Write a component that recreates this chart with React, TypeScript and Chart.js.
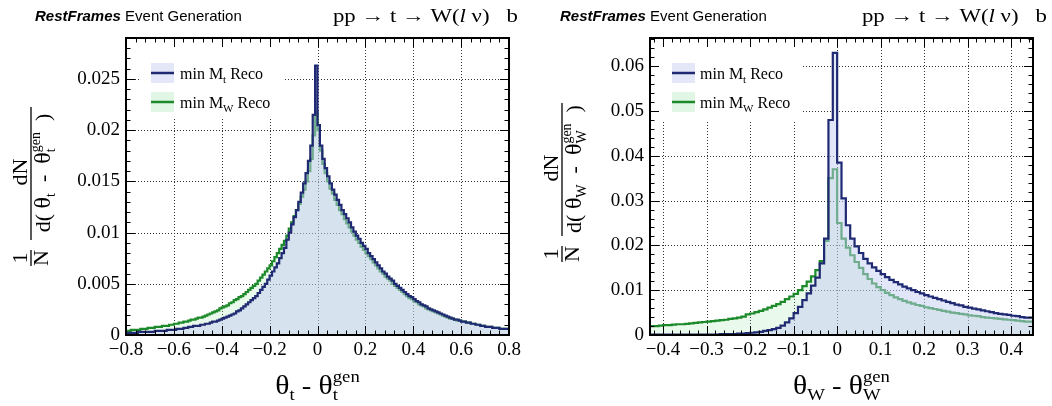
import React, { useEffect, useRef } from "react";
import { Chart, registerables } from "chart.js";
Chart.register(...registerables);

const SERIF = '"Liberation Serif", "DejaVu Serif", "Times New Roman", serif';
const SANS = '"Liberation Sans", Arial, Helvetica, sans-serif';

// ---------------- data ----------------
// Left panel: theta_t - theta_t^gen, bins of 0.01 from -0.8
const leftBinStart = -0.8;
const leftBinWidth = 0.01;
const leftMinMt = [
  0.0002, 0.0002, 0.0002, 0.0002, 0.0002, 0.0002, 0.0003, 0.0003, 0.0003, 0.0003,
  0.0003, 0.0003, 0.0003, 0.0004, 0.0004, 0.0004, 0.0004, 0.0004, 0.0005, 0.0005,
  0.0005, 0.0005, 0.0006, 0.0006, 0.0006, 0.0007, 0.0007, 0.0008, 0.0008, 0.0009,
  0.0009, 0.0009, 0.001, 0.001, 0.0011, 0.0011, 0.0012, 0.0013, 0.0013, 0.0014,
  0.0015, 0.0016, 0.0017, 0.0018, 0.0019, 0.002, 0.0021, 0.0023, 0.0024, 0.0026,
  0.0028, 0.003, 0.0032, 0.0034, 0.0036, 0.0038, 0.0041, 0.0044, 0.0047, 0.005,
  0.0054, 0.0058, 0.0062, 0.0066, 0.007, 0.0075, 0.008, 0.0085, 0.0093, 0.01,
  0.0108, 0.0115, 0.0122, 0.013, 0.0139, 0.0148, 0.0158, 0.017, 0.0185, 0.0215,
  0.0263, 0.0205, 0.0185, 0.0172, 0.0163, 0.0155, 0.0148, 0.0142, 0.0137, 0.0132,
  0.0127, 0.0122, 0.0118, 0.0114, 0.011, 0.0105, 0.0101, 0.0097, 0.0094, 0.009,
  0.0087, 0.0084, 0.008, 0.0077, 0.0074, 0.0071, 0.0068, 0.0065, 0.0062, 0.006,
  0.0057, 0.0055, 0.0053, 0.005, 0.0048, 0.0046, 0.0044, 0.0042, 0.004, 0.0038,
  0.0037, 0.0035, 0.0033, 0.0032, 0.003, 0.0029, 0.0028, 0.0026, 0.0025, 0.0024,
  0.0023, 0.0022, 0.0021, 0.002, 0.0019, 0.0018, 0.0017, 0.0016, 0.0015, 0.0015,
  0.0014, 0.0013, 0.0013, 0.0012, 0.0012, 0.0011, 0.0011, 0.001, 0.001, 0.0009,
  0.0009, 0.0008, 0.0008, 0.0008, 0.0007, 0.0007, 0.0007, 0.0006, 0.0006, 0.0006,
];
const leftMinMw = [
  0.0004, 0.0004, 0.0004, 0.0005, 0.0005, 0.0005, 0.0005, 0.0006, 0.0006, 0.0006,
  0.0007, 0.0007, 0.0007, 0.0008, 0.0008, 0.0008, 0.0009, 0.0009, 0.0009, 0.001,
  0.001, 0.0011, 0.0011, 0.0012, 0.0012, 0.0013, 0.0013, 0.0014, 0.0015, 0.0015,
  0.0016, 0.0017, 0.0017, 0.0018, 0.0019, 0.002, 0.0021, 0.0022, 0.0023, 0.0024,
  0.0026, 0.0027, 0.0028, 0.0029, 0.0031, 0.0032, 0.0034, 0.0035, 0.0037, 0.0038,
  0.004, 0.0042, 0.0044, 0.0046, 0.0048, 0.005, 0.0053, 0.0056, 0.0059, 0.0062,
  0.0065, 0.0068, 0.0072, 0.0076, 0.008, 0.0084, 0.0088, 0.0092, 0.0097, 0.0104,
  0.011, 0.0116, 0.0122, 0.0128, 0.0135, 0.0142, 0.015, 0.016, 0.0172, 0.0195,
  0.0218, 0.02, 0.018, 0.0167, 0.0158, 0.015, 0.0143, 0.0138, 0.0132, 0.0127,
  0.0122, 0.0118, 0.0113, 0.0109, 0.0105, 0.0101, 0.0097, 0.0093, 0.009, 0.0086,
  0.0083, 0.008, 0.0077, 0.0074, 0.0071, 0.0068, 0.0065, 0.0062, 0.006, 0.0057,
  0.0055, 0.0053, 0.005, 0.0048, 0.0046, 0.0044, 0.0042, 0.004, 0.0038, 0.0036,
  0.0035, 0.0033, 0.0032, 0.003, 0.0029, 0.0028, 0.0026, 0.0025, 0.0024, 0.0023,
  0.0022, 0.0021, 0.002, 0.0019, 0.0018, 0.0017, 0.0016, 0.0016, 0.0015, 0.0014,
  0.0014, 0.0013, 0.0013, 0.0012, 0.0012, 0.0011, 0.0011, 0.001, 0.001, 0.0009,
  0.0009, 0.0008, 0.0008, 0.0008, 0.0007, 0.0007, 0.0007, 0.0006, 0.0006, 0.0006,
];

// Right panel: theta_W - theta_W^gen, bins of 0.01 from -0.43
const rightBinStart = -0.43;
const rightBinWidth = 0.01;
const rightMinMt = [
  0.0001, 0.0001, 0.0001, 0.0001, 0.0001, 0.0001, 0.0001, 0.0001, 0.0001, 0.0001,
  0.0001, 0.0001, 0.0001, 0.0001, 0.0001, 0.0001, 0.0001, 0.0002, 0.0002, 0.0002,
  0.0002, 0.0003, 0.0003, 0.0004, 0.0005, 0.0006, 0.0007, 0.0009, 0.0011, 0.0013,
  0.0016, 0.0021, 0.0028, 0.0037, 0.0049, 0.0063, 0.0078, 0.0093, 0.011, 0.0128,
  0.016, 0.0215, 0.048, 0.063, 0.0385, 0.0305, 0.0245, 0.0215, 0.0198, 0.0183,
  0.017, 0.016, 0.0151, 0.0143, 0.0136, 0.0129, 0.0123, 0.0118, 0.0113, 0.0108,
  0.0104, 0.01, 0.0096, 0.0093, 0.0089, 0.0086, 0.0083, 0.008, 0.0077, 0.0074,
  0.0071, 0.0068, 0.0066, 0.0063, 0.0061, 0.0059, 0.0057, 0.0055, 0.0053, 0.0051,
  0.0049, 0.0047, 0.0046, 0.0045, 0.0043, 0.0042, 0.004, 0.0039,
];
const rightMinMw = [
  0.0019, 0.002, 0.002, 0.0021, 0.0022, 0.0022, 0.0023, 0.0024, 0.0024, 0.0025,
  0.0026, 0.0027, 0.0028, 0.0029, 0.003, 0.0031, 0.0032, 0.0033, 0.0034, 0.0036,
  0.0037, 0.0039, 0.0041, 0.0046, 0.0048, 0.0051, 0.0054, 0.0057, 0.0061, 0.0065,
  0.0069, 0.0074, 0.008, 0.0086, 0.0092, 0.01, 0.0109, 0.0119, 0.0131, 0.0145,
  0.0165, 0.021, 0.035, 0.037, 0.025, 0.0215, 0.0195, 0.0178, 0.0163, 0.015,
  0.0136, 0.0125, 0.0115, 0.0107, 0.01, 0.0094, 0.0089, 0.0084, 0.008, 0.0076,
  0.0073, 0.007, 0.0067, 0.0065, 0.0062, 0.006, 0.0058, 0.0056, 0.0054, 0.0052,
  0.005, 0.0049, 0.0047, 0.0046, 0.0044, 0.0043, 0.0042, 0.004, 0.0039, 0.0038,
  0.0037, 0.0036, 0.0035, 0.0034, 0.0033, 0.0032, 0.0031, 0.003,
];

const leftXTicks = [-0.8, -0.6, -0.4, -0.2, 0, 0.2, 0.4, 0.6, 0.8];
const leftXTickLabels = ["\u22120.8", "\u22120.6", "\u22120.4", "\u22120.2", "0", "0.2", "0.4", "0.6", "0.8"];
const leftYTicks = [0, 0.005, 0.01, 0.015, 0.02, 0.025];
const leftYTickLabels = ["0", "0.005", "0.01", "0.015", "0.02", "0.025"];
const rightXTicks = [-0.4, -0.3, -0.2, -0.1, 0, 0.1, 0.2, 0.3, 0.4];
const rightXTickLabels = ["\u22120.4", "\u22120.3", "\u22120.2", "\u22120.1", "0", "0.1", "0.2", "0.3", "0.4"];
const rightYTicks = [0, 0.01, 0.02, 0.03, 0.04, 0.05, 0.06];
const rightYTickLabels = ["0", "0.01", "0.02", "0.03", "0.04", "0.05", "0.06"];

const seriesNames = ["min M", "min M"];
const seriesSubs = ["t", "W"];
const headerLeft = ["RestFrames", " Event Generation"];
const headerRight = ["pp \u2192 t \u2192 W(", "l", " \u03bd)   b"];

// ---------------- styles ----------------
const MT_LINE = "#1f2a72";
const MW_LINE = "#1c8a2a";
const MT_FILL = "rgba(196,205,242,0.5)";
const MW_FILL = "rgba(100,210,120,0.14)";
const MT_LEG_FILL = "rgb(228,231,247)";
const MW_LEG_FILL = "rgb(226,246,230)";

type Run = {
  t?: string;
  sup?: string;
  sub?: string;
  size: number;
  dy?: number;
  supDy?: number;
  subDy?: number;
  italic?: boolean;
  bold?: boolean;
  family?: string;
};

function runFont(r: Run) {
  return `${r.italic ? "italic " : ""}${r.bold ? "bold " : ""}${r.size}px ${r.family || SERIF}`;
}
function runWidth(ctx: CanvasRenderingContext2D, r: Run) {
  ctx.font = runFont(r);
  if (r.t !== undefined) return ctx.measureText(r.t).width;
  return Math.max(ctx.measureText(r.sup || "").width, ctx.measureText(r.sub || "").width);
}
function drawRuns(
  ctx: CanvasRenderingContext2D,
  runs: Run[],
  x: number,
  y: number,
  align: "left" | "center" | "right",
  sx = 1
) {
  const widths = runs.map((r) => runWidth(ctx, r));
  const total = widths.reduce((a, b) => a + b, 0) * sx;
  const x0 = align === "left" ? x : align === "center" ? x - total / 2 : x - total;
  ctx.save();
  ctx.translate(x0, y);
  ctx.scale(sx, 1);
  ctx.textAlign = "left";
  ctx.textBaseline = "alphabetic";
  let cx = 0;
  runs.forEach((r, i) => {
    ctx.font = runFont(r);
    if (r.t !== undefined) ctx.fillText(r.t, cx, r.dy || 0);
    else {
      if (r.sup) ctx.fillText(r.sup, cx, r.supDy || 0);
      if (r.sub) ctx.fillText(r.sub, cx, r.subDy || 0);
    }
    cx += widths[i];
  });
  ctx.restore();
}

function toPoints(start: number, width: number, vals: number[]) {
  const pts = vals.map((v, i) => ({ x: start + i * width, y: v }));
  pts.push({ x: start + vals.length * width, y: vals[vals.length - 1] });
  return pts;
}

type PanelCfg = {
  xMin: number;
  xMax: number;
  yMax: number;
  xTicks: number[];
  xTickLabels: string[];
  yTicks: number[];
  yTickLabels: string[];
  xMinor: number;
  yMinor: number;
  binStart: number;
  binWidth: number;
  mt: number[];
  mw: number[];
  sub: string;
  padLeft: number;
  padRight: number;
  yTitleX: number;
  yTitleY: number;
  legendBox: [number, number, number, number];
  legendSymX: number;
  legendTextX: number;
  headerLeftX: number;
  headerRightX: number;
};

const leftCfg: PanelCfg = {
  xMin: -0.8, xMax: 0.8, yMax: 0.029,
  xTicks: leftXTicks, xTickLabels: leftXTickLabels,
  yTicks: leftYTicks, yTickLabels: leftYTickLabels,
  xMinor: 0.04, yMinor: 0.001,
  binStart: leftBinStart, binWidth: leftBinWidth,
  mt: leftMinMt, mw: leftMinMw, sub: "t",
  padLeft: 126, padRight: 17,
  yTitleX: 31, yTitleY: 190,
  legendBox: [140, 40, 143, 78],
  legendSymX: 151, legendTextX: 180,
  headerLeftX: 35, headerRightX: 518,
};
const rightCfg: PanelCfg = {
  xMin: -0.43, xMax: 0.45, yMax: 0.0663,
  xTicks: rightXTicks, xTickLabels: rightXTickLabels,
  yTicks: rightYTicks, yTickLabels: rightYTickLabels,
  xMinor: 0.02, yMinor: 0.002,
  binStart: rightBinStart, binWidth: rightBinWidth,
  mt: rightMinMt, mw: rightMinMw, sub: "W",
  padLeft: 124, padRight: 19,
  yTitleX: 36, yTitleY: 186,
  legendBox: [129, 40, 146, 80],
  legendSymX: 146, legendTextX: 174,
  headerLeftX: 34, headerRightX: 521,
};

function drawYTitle(ctx: CanvasRenderingContext2D, cfg: PanelCfg) {
  ctx.save();
  ctx.translate(cfg.yTitleX, cfg.yTitleY);
  ctx.rotate(-Math.PI / 2);
  ctx.fillStyle = "#000";
  ctx.strokeStyle = "#000";
  ctx.lineWidth = 1.3;
  const F = 22;
  // 1/N
  ctx.font = `${F}px ${SERIF}`;
  ctx.textAlign = "center";
  ctx.textBaseline = "alphabetic";
  ctx.fillText("1", -68, -4);
  ctx.fillText("N", -68, 17);
  ctx.beginPath();
  ctx.moveTo(-76, 0);
  ctx.lineTo(-60, 0);
  ctx.stroke();
  // dN / d(...)
  ctx.fillText("dN", 18, -4);
  ctx.beginPath();
  ctx.moveTo(-50, 0);
  ctx.lineTo(83, 0);
  ctx.stroke();
  const S = 14;
  drawRuns(
    ctx,
    [
      { t: "d( ", size: F },
      { t: "\u03b8", size: F + 2 },
      { t: cfg.sub, size: S, dy: 5 },
      { t: "  -  ", size: F },
      { t: "\u03b8", size: F + 2 },
      { sup: "gen", sub: cfg.sub, size: S, supDy: -10, subDy: 5 },
      { t: "  )", size: F },
    ],
    17,
    19,
    "center"
  );
  ctx.restore();
}

function makePlugin(cfg: PanelCfg) {
  return {
    id: "rootStyle",
    beforeDatasetsDraw(chart: any) {
      const { ctx, chartArea: a, scales } = chart;
      const xs = scales.x;
      const ys = scales.y;
      ctx.save();
      ctx.strokeStyle = "#333";
      ctx.lineWidth = 1;
      ctx.setLineDash([1, 2]);
      cfg.xTicks.forEach((v) => {
        const px = Math.round(xs.getPixelForValue(v)) + 0.5;
        ctx.beginPath();
        ctx.moveTo(px, a.top);
        ctx.lineTo(px, a.bottom);
        ctx.stroke();
      });
      cfg.yTicks.forEach((v) => {
        const py = Math.round(ys.getPixelForValue(v)) + 0.5;
        ctx.beginPath();
        ctx.moveTo(a.left, py);
        ctx.lineTo(a.right, py);
        ctx.stroke();
      });
      ctx.setLineDash([]);
      // legend background
      const [bx, by, bw, bh] = cfg.legendBox;
      ctx.fillStyle = "#fff";
      ctx.fillRect(bx, by, bw, bh);
      ctx.restore();
    },
    afterDatasetsDraw(chart: any) {
      const { ctx, chartArea: a, scales } = chart;
      const xs = scales.x;
      const ys = scales.y;
      ctx.save();
      // frame
      ctx.strokeStyle = "#000";
      ctx.lineWidth = 2;
      ctx.strokeRect(a.left, a.top, a.right - a.left, a.bottom - a.top);
      // ticks
      ctx.lineWidth = 1;
      const MAJ = 9;
      const MIN = 4.5;
      const isMajor = (v: number, arr: number[], step: number) => arr.some((t) => Math.abs(t - v) < step * 0.01);
      const k0 = Math.ceil(cfg.xMin / cfg.xMinor - 1e-6);
      const k1 = Math.floor(cfg.xMax / cfg.xMinor + 1e-6);
      for (let k = k0; k <= k1; k++) {
        const v = k * cfg.xMinor;
        const L = isMajor(v, cfg.xTicks, cfg.xMinor) ? MAJ : MIN;
        const px = Math.round(xs.getPixelForValue(v)) + 0.5;
        ctx.beginPath();
        ctx.moveTo(px, a.bottom);
        ctx.lineTo(px, a.bottom - L);
        ctx.moveTo(px, a.top);
        ctx.lineTo(px, a.top + L);
        ctx.stroke();
      }
      const j1 = Math.floor(cfg.yMax / cfg.yMinor + 1e-6);
      for (let j = 0; j <= j1; j++) {
        const v = j * cfg.yMinor;
        const L = isMajor(v, cfg.yTicks, cfg.yMinor) ? MAJ : MIN;
        const py = Math.round(ys.getPixelForValue(v)) + 0.5;
        ctx.beginPath();
        ctx.moveTo(a.left, py);
        ctx.lineTo(a.left + L, py);
        ctx.moveTo(a.right, py);
        ctx.lineTo(a.right - L, py);
        ctx.stroke();
      }
      // tick labels
      ctx.fillStyle = "#000";
      ctx.font = `19px ${SERIF}`;
      ctx.textAlign = "center";
      ctx.textBaseline = "alphabetic";
      cfg.xTicks.forEach((v, i) => {
        ctx.fillText(cfg.xTickLabels[i], xs.getPixelForValue(v), a.bottom + 20);
      });
      ctx.textAlign = "right";
      ctx.textBaseline = "middle";
      cfg.yTicks.forEach((v, i) => {
        ctx.fillText(cfg.yTickLabels[i], a.left - 6, ys.getPixelForValue(v));
      });
      // x title
      const cx = (a.left + a.right) / 2;
      drawRuns(
        ctx,
        [
          { t: "\u03b8", size: 27 },
          { t: cfg.sub, size: 17, dy: 6 },
          { t: " - ", size: 26 },
          { t: "\u03b8", size: 27 },
          { sup: "gen", sub: cfg.sub, size: 17, supDy: -12, subDy: 6 },
        ],
        cx,
        394,
        "center",
        1.1
      );
      // y title
      drawYTitle(ctx, cfg);
      // header
      drawRuns(
        ctx,
        [
          { t: headerLeft[0], size: 15, bold: true, italic: true, family: SANS },
          { t: headerLeft[1], size: 15, family: SANS },
        ],
        cfg.headerLeftX,
        21,
        "left"
      );
      drawRuns(
        ctx,
        [
          { t: headerRight[0], size: 19 },
          { t: headerRight[1], size: 19, italic: true },
          { t: headerRight[2], size: 19 },
        ],
        cfg.headerRightX,
        22,
        "right",
        1.2
      );
      // legend
      const rows = [
        { y: 73, fill: MT_LEG_FILL, line: MT_LINE, name: seriesNames[0], sub: seriesSubs[0] },
        { y: 102, fill: MW_LEG_FILL, line: MW_LINE, name: seriesNames[1], sub: seriesSubs[1] },
      ];
      rows.forEach((r) => {
        ctx.fillStyle = r.fill;
        ctx.fillRect(cfg.legendSymX, r.y - 10, 23, 20);
        ctx.strokeStyle = r.line;
        ctx.lineWidth = 2.5;
        ctx.beginPath();
        ctx.moveTo(cfg.legendSymX, r.y);
        ctx.lineTo(cfg.legendSymX + 23, r.y);
        ctx.stroke();
        ctx.fillStyle = "#000";
        drawRuns(
          ctx,
          [
            { t: r.name, size: 16 },
            { t: r.sub, size: 11, dy: 4 },
            { t: " Reco", size: 16 },
          ],
          cfg.legendTextX,
          r.y + 6,
          "left"
        );
      });
      ctx.restore();
    },
  };
}

function Panel({ cfg }: { cfg: PanelCfg }) {
  const ref = useRef<HTMLCanvasElement | null>(null);
  useEffect(() => {
    if (!ref.current) return;
    const chart = new Chart(ref.current, {
      type: "line",
      data: {
        datasets: [
          {
            label: "min Mt Reco",
            data: toPoints(cfg.binStart, cfg.binWidth, cfg.mt),
            stepped: "after",
            borderColor: MT_LINE,
            borderWidth: 2.2,
            backgroundColor: MT_FILL,
            fill: "origin",
            pointRadius: 0,
            order: 0,
          },
          {
            label: "min MW Reco",
            data: toPoints(cfg.binStart, cfg.binWidth, cfg.mw),
            stepped: "after",
            borderColor: MW_LINE,
            borderWidth: 2.2,
            backgroundColor: MW_FILL,
            fill: "origin",
            pointRadius: 0,
            order: 1,
          },
        ],
      },
      options: {
        animation: false,
        responsive: false,
        maintainAspectRatio: false,
        layout: { padding: { left: cfg.padLeft, right: cfg.padRight, top: 38, bottom: 71 } },
        plugins: { legend: { display: false }, tooltip: { enabled: false } },
        scales: {
          x: { type: "linear", min: cfg.xMin, max: cfg.xMax, display: false },
          y: { type: "linear", min: 0, max: cfg.yMax, display: false },
        },
      },
      plugins: [makePlugin(cfg)],
    } as any);
    return () => chart.destroy();
  }, [cfg]);
  return <canvas ref={ref} width={526} height={406} style={{ display: "block", width: 526, height: 406 }} />;
}

export default function App() {
  return (
    <div style={{ position: "fixed", left: 0, top: 0, width: 1052, height: 406, display: "flex", background: "#fff" }}>
      <Panel cfg={leftCfg} />
      <Panel cfg={rightCfg} />
    </div>
  );
}
